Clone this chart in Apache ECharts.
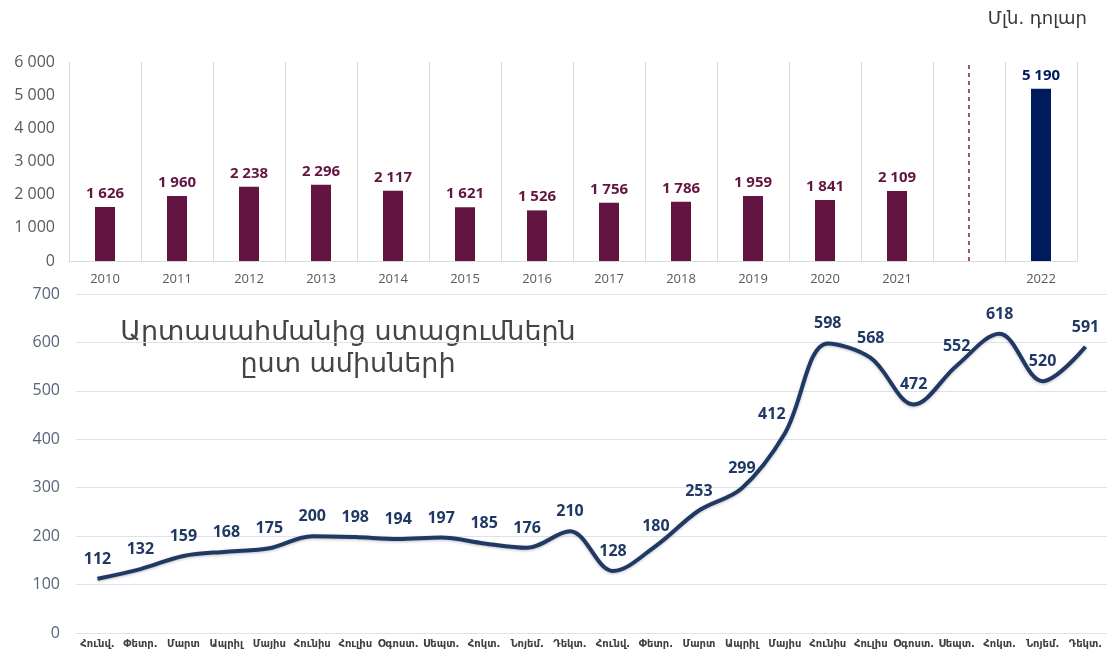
<!DOCTYPE html>
<html>
<head>
<meta charset="utf-8">
<script src="https://cdn.jsdelivr.net/npm/echarts@6/dist/echarts.min.js"></script>
<style>
  html, body { margin: 0; padding: 0; background: #ffffff; }
  #chart { width: 1107px; height: 652px; }
</style>
</head>
<body>
<div id="chart"></div>
<script>
// Annual receipts (mln USD), 2010–2021, a gap, then 2022
const years = ['2010', '2011', '2012', '2013', '2014', '2015', '2016', '2017', '2018', '2019', '2020', '2021', ' ', '2022'];
const annualValues = [1626, 1960, 2238, 2296, 2117, 1621, 1526, 1756, 1786, 1959, 1841, 2109, null, null];
const highlightValues = [null, null, null, null, null, null, null, null, null, null, null, null, null, 5190];

// Monthly receipts, Jan 2021 – Dec 2022
const months = ['Հունվ.', 'Փետր.', 'Մարտ', 'Ապրիլ', 'Մայիս', 'Հունիս', 'Հուլիս', 'Օգոստ.', 'Սեպտ.', 'Հոկտ.', 'Նոյեմ.', 'Դեկտ.',
                'Հունվ.', 'Փետր.', 'Մարտ', 'Ապրիլ', 'Մայիս', 'Հունիս', 'Հուլիս', 'Օգոստ.', 'Սեպտ.', 'Հոկտ.', 'Նոյեմ.', 'Դեկտ.'];
const monthlyValues = [112, 132, 159, 168, 175, 200, 198, 194, 197, 185, 176, 210,
                       128, 180, 253, 299, 412, 598, 568, 472, 552, 618, 520, 591];

const NUM_FONT = '"Open Sans", "Noto Sans", sans-serif';
const ARM_FONT = '"DejaVu Sans", sans-serif';
const fmt = v => String(v).replace(/\B(?=(\d{3})+(?!\d))/g, ' ');

// the label on the steep May-2022 climb is nudged left so it clears the line
const lineData = monthlyValues.map((v, i) =>
  i === 16 ? { value: v, label: { offset: [-13, 0] } } : v);

const chart = echarts.init(document.getElementById('chart'), null, { renderer: 'canvas' });

chart.setOption({
  backgroundColor: '#ffffff',
  animation: false,
  graphic: [
    {
      type: 'text', right: 20, top: 10,
      style: { text: 'Մլն. դոլար', font: '18px ' + ARM_FONT, fill: '#383838' }
    },
    {
      type: 'text', x: 348, y: 317,
      style: {
        text: 'Արտասահմանից ստացումներն\nըստ ամիսների',
        font: '27px ' + ARM_FONT, fill: '#454545', align: 'center', verticalAlign: 'top', lineHeight: 32
      }
    }
  ],
  grid: [
    { left: 69, right: 30, top: 62, bottom: 391 },
    { left: 76, right: 0, top: 294, bottom: 19 }
  ],
  xAxis: [
    {
      type: 'category', gridIndex: 0, data: years, boundaryGap: true,
      axisLine: { show: true, lineStyle: { color: '#d9d9d9', width: 1 } },
      axisTick: { show: false },
      splitLine: { show: true, lineStyle: { color: '#d9d9d9', width: 1 } },
      axisLabel: { color: '#595959', fontSize: 13, fontFamily: NUM_FONT, margin: 12 }
    },
    {
      type: 'category', gridIndex: 1, data: months, boundaryGap: true,
      axisLine: { show: true, lineStyle: { color: '#dde3ea', width: 1 } },
      axisTick: { show: false },
      axisLabel: { color: '#404040', fontSize: 10, fontFamily: ARM_FONT, fontWeight: 'bold', interval: 0, margin: 6 }
    }
  ],
  yAxis: [
    {
      type: 'value', gridIndex: 0, min: 0, max: 6000, interval: 1000,
      axisLine: { show: false }, axisTick: { show: false },
      splitLine: { show: false },
      axisLabel: { color: '#595959', fontSize: 16, fontFamily: NUM_FONT, margin: 14, formatter: fmt }
    },
    {
      type: 'value', gridIndex: 1, min: 0, max: 700, interval: 100,
      axisLine: { show: false }, axisTick: { show: false },
      splitLine: { show: true, lineStyle: { color: '#dde3ea', width: 1 } },
      axisLabel: { color: '#56657a', fontSize: 16, fontFamily: NUM_FONT, margin: 16 }
    }
  ],
  series: [
    {
      type: 'bar', xAxisIndex: 0, yAxisIndex: 0, data: annualValues,
      barWidth: 20, barGap: '-100%',
      itemStyle: { color: '#641441' },
      label: {
        show: true, position: 'top', distance: 6,
        color: '#641441', fontSize: 15, fontWeight: 'bold', fontFamily: NUM_FONT,
        formatter: p => fmt(p.value)
      },
      markLine: {
        silent: true, symbol: 'none',
        label: { show: false },
        lineStyle: { color: '#7a2050', type: [4, 4], width: 1.5 },
        data: [{ xAxis: 12 }]
      }
    },
    {
      type: 'bar', xAxisIndex: 0, yAxisIndex: 0, data: highlightValues,
      barWidth: 20,
      itemStyle: { color: '#001a5e' },
      label: {
        show: true, position: 'top', distance: 6,
        color: '#001a5e', fontSize: 15, fontWeight: 'bold', fontFamily: NUM_FONT,
        formatter: p => fmt(p.value)
      }
    },
    {
      type: 'line', xAxisIndex: 1, yAxisIndex: 1, data: lineData,
      smooth: 0.35, symbol: 'circle', symbolSize: 1, showSymbol: true,
      itemStyle: { color: 'rgba(31,56,100,0)' },
      lineStyle: { color: '#1f3864', width: 4, shadowColor: 'rgba(0,0,0,0.25)', shadowBlur: 3, shadowOffsetY: 1 },
      label: {
        show: true, position: 'top', distance: 11,
        color: '#1f3864', fontSize: 16, fontWeight: 'bold', fontFamily: NUM_FONT
      }
    }
  ]
});
</script>
</body>
</html>
